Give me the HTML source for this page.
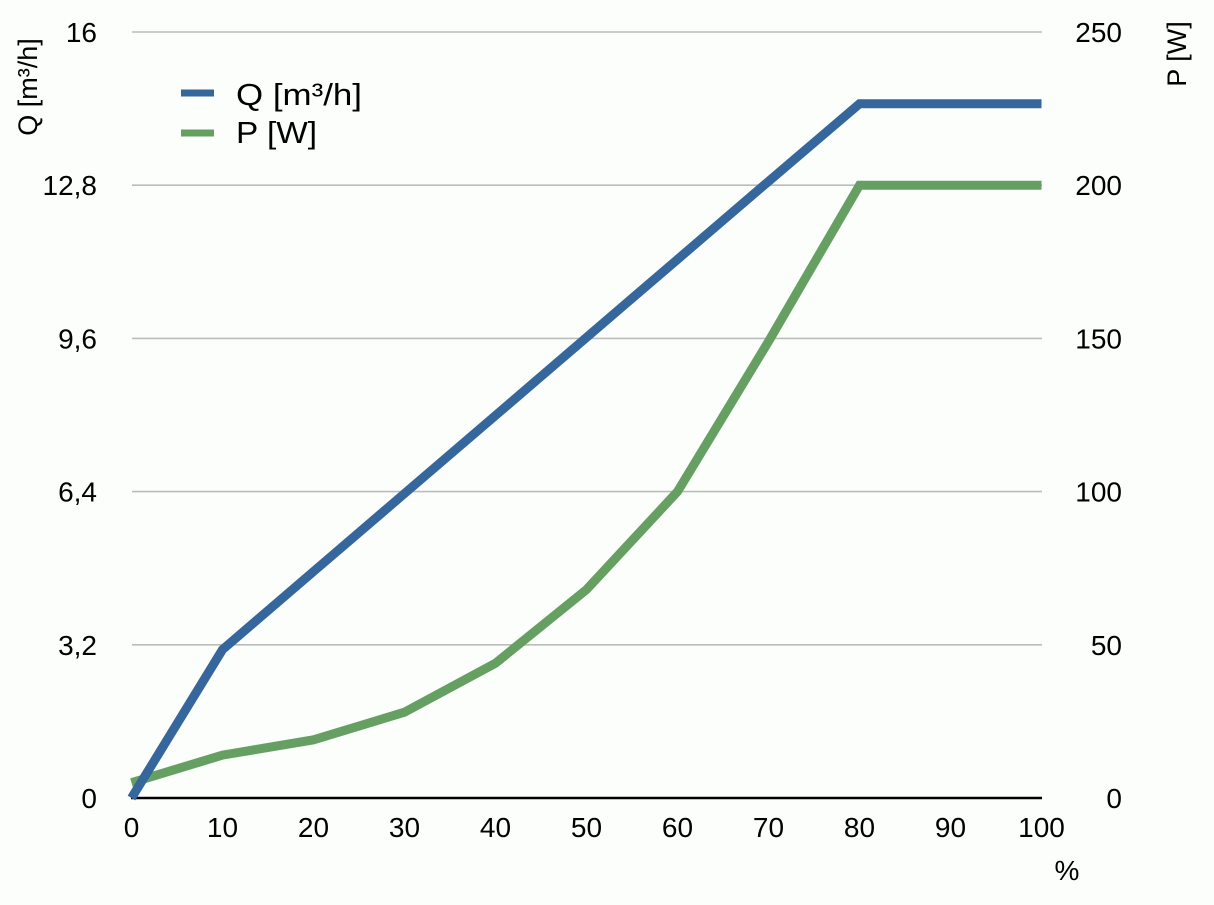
<!DOCTYPE html>
<html>
<head>
<meta charset="utf-8">
<style>
  html, body { margin: 0; padding: 0; background: #fcfefc; }
  svg { display: block; }
  text { font-family: "Liberation Sans", Arial, sans-serif; fill: #000; }
</style>
</head>
<body>
<svg width="1214" height="905" viewBox="0 0 1214 905" xmlns="http://www.w3.org/2000/svg">
  <rect x="0" y="0" width="1214" height="905" fill="#fcfefc"/>

  <!-- gridlines -->
  <g stroke="#bcbcbc" stroke-width="1.6">
    <line x1="132" y1="32" x2="1042" y2="32"/>
    <line x1="132" y1="185.2" x2="1042" y2="185.2"/>
    <line x1="132" y1="338.4" x2="1042" y2="338.4"/>
    <line x1="132" y1="491.6" x2="1042" y2="491.6"/>
    <line x1="132" y1="644.8" x2="1042" y2="644.8"/>
  </g>
  <line x1="131" y1="798" x2="1042" y2="798" stroke="#000" stroke-width="2.4"/>

  <!-- left tick labels -->
  <g font-size="28" text-anchor="end">
    <text x="97" y="42">16</text>
    <text x="97" y="195.2">12,8</text>
    <text x="97" y="348.4">9,6</text>
    <text x="97" y="501.6">6,4</text>
    <text x="97" y="654.8">3,2</text>
    <text x="97" y="808">0</text>
  </g>

  <!-- right tick labels -->
  <g font-size="28" text-anchor="end">
    <text x="1122" y="42">250</text>
    <text x="1122" y="195.2">200</text>
    <text x="1122" y="348.4">150</text>
    <text x="1122" y="501.6">100</text>
    <text x="1122" y="654.8">50</text>
    <text x="1122" y="808">0</text>
  </g>

  <!-- x tick labels -->
  <g font-size="28" text-anchor="middle">
    <text x="131.5" y="837">0</text>
    <text x="222.5" y="837">10</text>
    <text x="313.5" y="837">20</text>
    <text x="404.5" y="837">30</text>
    <text x="495.5" y="837">40</text>
    <text x="586.5" y="837">50</text>
    <text x="677.5" y="837">60</text>
    <text x="768.5" y="837">70</text>
    <text x="859.5" y="837">80</text>
    <text x="950.5" y="837">90</text>
    <text x="1041.5" y="837">100</text>
  </g>
  <text x="1067" y="880" font-size="28" text-anchor="middle">%</text>

  <!-- axis titles -->
  <text transform="translate(37,87) rotate(-90)" font-size="27" text-anchor="middle">Q [m³/h]</text>
  <text transform="translate(1186,54) rotate(-90)" font-size="27" text-anchor="middle">P [W]</text>

  <!-- series P (green) -->
  <polyline fill="none" stroke="#65a062" stroke-width="9" stroke-linejoin="miter"
    points="131.5,782.7 222.5,755.1 313.5,739.8 404.5,712.2 495.5,663.2 586.5,589.6 677.5,491.6 768.5,341.5 859.5,185.2 950.5,185.2 1041.5,185.2"/>

  <!-- series Q (blue) -->
  <polyline fill="none" stroke="#35669c" stroke-width="9" stroke-linejoin="miter"
    points="131.5,798 222.5,649.6 313.5,571.5 404.5,493.5 495.5,415.5 586.5,337.4 677.5,259.4 768.5,181.4 859.5,103.8 950.5,103.8 1041.5,103.8"/>

  <!-- legend -->
  <line x1="181" y1="93" x2="214" y2="93" stroke="#35669c" stroke-width="7"/>
  <line x1="181" y1="133" x2="214" y2="133" stroke="#65a062" stroke-width="7"/>
  <text x="236" y="105" font-size="31" textLength="126" lengthAdjust="spacingAndGlyphs">Q [m³/h]</text>
  <text x="236" y="143" font-size="31" textLength="81" lengthAdjust="spacingAndGlyphs">P [W]</text>
</svg>
</body>
</html>
